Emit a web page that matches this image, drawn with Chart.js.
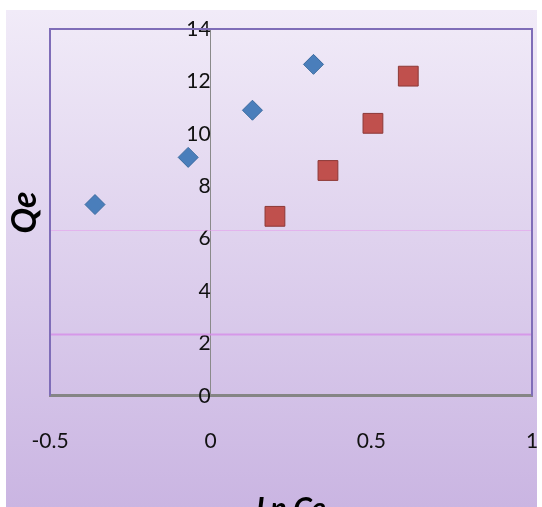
<!DOCTYPE html>
<html>
<head>
<meta charset="utf-8">
<script src="https://cdn.jsdelivr.net/npm/chart.js@4.4.0/dist/chart.umd.min.js"></script>
<style>
    html, body { margin: 0; padding: 0; background: #fff; overflow: hidden; }
    #bg {
        position: absolute; left: 6px; top: 10px; width: 531px; height: 497px;
        background: linear-gradient(to bottom, #f1ebf8 0%, #cab5e2 100%);
    }
    #wrap { position: absolute; left: 6px; top: 10px; width: 541px; height: 520px; }
</style>
</head>
<body>
<div id="bg"></div>
<div id="wrap"><canvas id="myChart"></canvas></div>
<script>
// values
const blueX = [-0.36, -0.07, 0.13, 0.32];
const blueY = [7.3, 9.1, 10.9, 12.65];
const redX = [0.2, 0.365, 0.505, 0.615];
const redY = [6.85, 8.6, 10.4, 12.2];
const xTicks = [-0.5, 0, 0.5, 1];
const yTicks = [0, 2, 4, 6, 8, 10, 12, 14];
const faintLines = [2.37, 6.33];

const toPoints = (xs, ys) => xs.map((x, i) => ({ x: x, y: ys[i] }));

// purple frame round the plot plus the faint pink lines
const framePlugin = {
    id: 'frame',
    beforeDatasetsDraw(chart) {
        const { ctx, chartArea: a, scales: { y } } = chart;
        ctx.save();
        faintLines.forEach((v, i) => {
            const py = Math.round(y.getPixelForValue(v)) + 0.5;
            ctx.strokeStyle = i === 0 ? 'rgba(214,140,232,0.8)' : 'rgba(228,160,236,0.6)';
            ctx.lineWidth = i === 0 ? 2 : 1;
            ctx.beginPath();
            ctx.moveTo(a.left, py);
            ctx.lineTo(a.right, py);
            ctx.stroke();
        });
        ctx.strokeStyle = '#7f6db8';
        ctx.lineWidth = 2;
        ctx.beginPath();
        ctx.moveTo(a.left, a.bottom);
        ctx.lineTo(a.left, a.top);
        ctx.lineTo(a.right, a.top);
        ctx.lineTo(a.right, a.bottom);
        ctx.stroke();
        ctx.restore();
    },
    afterDraw(chart) {
        const { ctx, chartArea: a } = chart;
        ctx.save();
        ctx.translate(19, (a.top + a.bottom) / 2);
        ctx.rotate(-Math.PI / 2);
        ctx.fillStyle = '#000';
        ctx.font = 'italic bold 34px Lato';
        ctx.textAlign = 'center';
        ctx.textBaseline = 'middle';
        ctx.fillText('Qe', 0, 0);
        ctx.restore();
    }
};

document.addEventListener('DOMContentLoaded', function () {
    const ctx = document.getElementById('myChart');

    new Chart(ctx, {
        type: 'scatter',
        data: {
            datasets: [{
                label: 'Series 1',
                data: toPoints(blueX, blueY),
                pointStyle: 'rectRot',
                pointRadius: 10,
                backgroundColor: '#4a7ebb',
                borderColor: '#3a6a9e',
                borderWidth: 1
            }, {
                label: 'Series 2',
                data: toPoints(redX, redY),
                pointStyle: 'rect',
                pointRadius: 14,
                backgroundColor: '#c0504d',
                borderColor: '#8c3836',
                borderWidth: 1
            }]
        },
        options: {
            responsive: true,
            maintainAspectRatio: false,
            animation: false,
            layout: {
                padding: { left: 44, top: 19, right: 15, bottom: 3 }
            },
            scales: {
                x: {
                    type: 'linear',
                    position: 'bottom',
                    min: -0.5,
                    max: 1,
                    afterBuildTicks: s => { s.ticks = xTicks.map(v => ({ value: v })); },
                    afterFit: s => { s.paddingLeft = 0; s.paddingRight = 0; },
                    grid: { drawOnChartArea: false, drawTicks: false, color: 'transparent' },
                    border: { display: true, color: '#858585', width: 3 },
                    ticks: {
                        padding: 33,
                        color: '#111',
                        font: { family: 'Lato', size: 21 },
                        callback: v => String(v)
                    },
                    title: {
                        display: true,
                        text: 'Ln Ce',
                        color: '#000',
                        padding: { top: 4, bottom: 0 },
                        font: { family: 'Lato', size: 30, weight: 'bold', style: 'italic' }
                    }
                },
                y: {
                    type: 'linear',
                    position: { x: 0 },
                    min: 0,
                    max: 14,
                    afterBuildTicks: s => { s.ticks = yTicks.map(v => ({ value: v })); },
                    afterFit: s => { s.width = 0; s.paddingTop = 0; s.paddingBottom = 0; },
                    grid: { drawOnChartArea: false, drawTicks: false, color: 'transparent' },
                    border: { display: true, color: '#8a8a8a', width: 1 },
                    ticks: {
                        padding: 23,
                        color: '#111',
                        font: { family: 'Lato', size: 21 }
                    }
                }
            },
            plugins: {
                legend: { display: false },
                tooltip: { enabled: false }
            }
        },
        plugins: [framePlugin]
    });
});
</script>
</body>
</html>
